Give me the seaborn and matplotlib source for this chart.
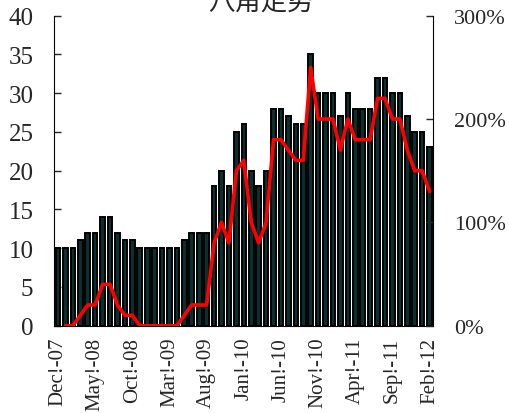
import numpy as np
import pandas as pd
import matplotlib
matplotlib.use("Agg")
import matplotlib.pyplot as plt
from matplotlib.ticker import FuncFormatter, FixedLocator
import seaborn as sns

# Monthly price (left axis) and growth rate in % (right axis), Dec-07 .. Feb-12
price = [10, 10, 10, 11, 12, 12, 14, 14, 12, 11, 11,
         10, 10, 10, 10, 10, 10, 11, 12, 12, 12,
         18, 20, 18, 25, 26, 20, 18, 20, 28, 28,
         27, 26, 26, 35, 30, 30, 30, 27, 30, 28,
         28, 28, 32, 32, 30, 30, 27, 25, 25, 23]
growth_pct = [np.nan, 0, 0, 10, 20, 20, 40, 40, 20, 10, 10,
              0, 0, 0, 0, 0, 0, 10, 20, 20, 20,
              80, 100, 80, 150, 160, 100, 80, 100, 180, 180,
              170, 160, 160, 250, 200, 200, 200, 170, 200, 180,
              180, 180, 220, 220, 200, 200, 170, 150, 150, 130]
tick_labels = ["Dec!-07", "May!-08", "Oct!-08", "Mar!-09", "Aug!-09", "Jan!-10",
               "Jun!-10", "Nov!-10", "Apr!-11", "Sep!-11", "Feb!-12"]
title = "八角走势"

months = pd.date_range("2007-12-01", periods=len(price), freq="MS").strftime("%b-%y")
df = pd.DataFrame({"month": months, "price": price, "growth": growth_pct,
                   "idx": np.arange(len(price))})

sns.set_style("white")
plt.rcParams["font.family"] = ["Liberation Serif", "Noto Sans CJK SC", "DejaVu Sans"]

fig = plt.figure(figsize=(5.10, 4.14), dpi=100)
ax = fig.add_axes([0.1065, 0.2109, 0.7431, 0.7488])

sns.barplot(data=df, x="month", y="price", ax=ax, color="#0a2f2f",
            edgecolor="black", linewidth=1.4, width=0.62, saturation=1)
ax.set_xlim(-0.5, len(price) - 0.5)
ax.set_ylim(0, 40)
ax.set_yticks(range(0, 41, 5))
ax.set_xlabel("")
ax.set_ylabel("")

step = 5
ax.set_xticks(np.arange(0, len(price), step))
ax.set_xticklabels(tick_labels, rotation=90, fontsize=15)
ax.xaxis.set_minor_locator(FixedLocator(np.arange(step - 0.5, len(price), step)))
ax.tick_params(axis="x", which="major", length=0, pad=8)
ax.tick_params(axis="x", which="minor", direction="in", length=3, color="#888888")
ax.tick_params(axis="y", direction="in", length=5, width=1, labelsize=18, pad=15)

for side in ["top", "right"]:
    ax.spines[side].set_visible(False)
ax.spines["left"].set_color("black")
ax.spines["bottom"].set_color("black")

ax2 = ax.twinx()
sns.lineplot(data=df, x="idx", y="growth", ax=ax2, color="#ff0000", linewidth=2.6)
ax2.set_ylim(0, 300)
ax2.set_yticks([0, 100, 200, 300])
ax2.yaxis.set_major_formatter(FuncFormatter(lambda v, p: f"{v:.0f}%"))
ax2.tick_params(axis="y", direction="in", length=5, width=1, labelsize=16, pad=15)
ax2.set_xlabel("")
ax2.set_ylabel("")
for side in ["top", "left", "bottom"]:
    ax2.spines[side].set_visible(False)
ax2.spines["right"].set_color("black")
ax2.set_xlim(-0.5, len(price) - 0.5)

fig.text(0.512, 0.975, title, ha="center", va="baseline", fontsize=19,
         family=["Noto Sans CJK SC", "DejaVu Sans"])

fig.savefig("out.png", dpi=100)
